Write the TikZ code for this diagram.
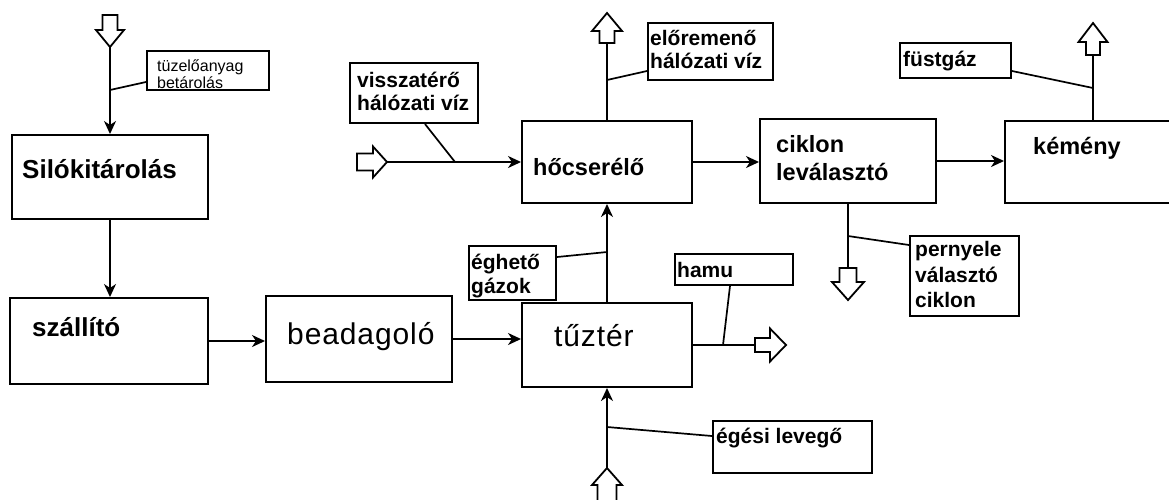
\documentclass[tikz,border=0pt]{standalone}
\usepackage{fontspec}
\setmainfont{Liberation Sans}
\usetikzlibrary{arrows.meta,calc}

% hollow block arrow: name, tail x, tail y, direction angle, length, head length, head half width, shaft half width
\newcommand\blockarrow[8]{%
  \begin{scope}[shift={(#2,#3)},rotate=#4]
    \draw[blk] (0,-#8) -- ({#5-#6},-#8) -- ({#5-#6},-#7) -- (#5,0)
               -- ({#5-#6},#7) -- ({#5-#6},#8) -- (0,#8) -- cycle;
    \coordinate (#1-tail) at (0,0);
    \coordinate (#1-tip) at (#5,0);
  \end{scope}}

\tikzset{
  box/.style={draw,line width=2pt,rectangle,inner sep=0pt},
  blk/.style={draw,line width=1.8pt,fill=white,line join=miter},
  link/.style={line width=2pt},
  arr/.style={link,-{Stealth[length=13pt,width=12pt,inset=4pt]}},
  lead/.style={line width=1.7pt},
  txt/.style={anchor=base west,inner sep=0pt},
  bigb/.style={txt,font=\fontsize{26}{30}\selectfont\bfseries},
  midb/.style={txt,font=\fontsize{23.5}{28}\selectfont\bfseries},
  smlb/.style={txt,font=\fontsize{21}{25}\selectfont\bfseries},
  plain/.style={txt,font=\fontsize{30}{34}\selectfont\addfontfeature{LetterSpace=3}},
  tiny/.style={txt,font=\fontsize{16}{18}\selectfont},
}

\begin{document}
\begin{tikzpicture}[x=1pt,y=-1pt]
\useasboundingbox[fill=white] (0,0) rectangle (1169,499);
\clip (0,0) rectangle (1169,499);

% process blocks
\node[box,minimum width=196pt,minimum height=84pt] (silo)   at (110,177) {};
\node[box,minimum width=198pt,minimum height=86pt] (szall)  at (109,341) {};
\node[box,minimum width=186pt,minimum height=86pt] (bead)   at (359,339) {};
\node[box,minimum width=170pt,minimum height=84pt] (tuzter) at (607,345) {};
\node[box,minimum width=170pt,minimum height=82pt] (hocs)   at (607,162) {};
\node[box,minimum width=176pt,minimum height=84pt] (ciklon) at (848,161) {};
\node[box,minimum width=170pt,minimum height=82pt] (kemeny) at (1090,162) {};

% label boxes
\node[box,minimum width=122pt,minimum height=39pt] (tuzb)   at (208,70.5) {};
\node[box,minimum width=87pt,minimum height=54pt]  (egh)    at (512.5,273) {};
\node[box,minimum width=125pt,minimum height=57pt] (elore)  at (710.5,51.5) {};
\node[box,minimum width=128pt,minimum height=60pt] (vissz)  at (414,93) {};
\node[box,minimum width=111pt,minimum height=35pt] (fust)   at (955.5,60.5) {};
\node[box,minimum width=109pt,minimum height=80pt] (pernye) at (964.5,276) {};
\node[box,minimum width=118pt,minimum height=31pt] (hamu)   at (734,269.5) {};
\node[box,minimum width=159pt,minimum height=52pt] (egesi)  at (792.5,447) {};

% texts of the blocks
\node[bigb] at (22,178) {Silókitárolás};
\node[bigb] at (32,336) {szállító};
\node[plain] at (287,344) {beadagoló};
\node[plain] at (554,346) {tűztér};
\node[midb] at (533,175) {hőcserélő};
\node[midb] at (776,152) {ciklon};
\node[midb] at (776,180) {leválasztó};
\node[midb] at (1033,154) {kémény};

% texts of the labels
\node[tiny] at (157,71) {tüzelőanyag};
\node[tiny] at (157,88) {betárolás};
\node[smlb] at (471,269) {éghető};
\node[smlb] at (471,293) {gázok};
\node[smlb] at (650,45) {előremenő};
\node[smlb] at (650,68) {hálózati víz};
\node[smlb] at (357,87) {visszatérő};
\node[smlb] at (357,110) {hálózati víz};
\node[smlb] at (903,66) {füstgáz};
\node[smlb] at (915,256) {pernyele};
\node[smlb] at (915,282) {választó};
\node[smlb] at (915,307) {ciklon};
\node[smlb] at (677,277) {hamu};
\node[smlb] at (716,443) {égési levegő};

% inputs and outputs
\blockarrow{a1}{110}{15}{-90}{32}{17}{14}{7.5}
\blockarrow{a2}{357}{162}{0}{30}{14}{15.5}{8.5}
\blockarrow{a3}{607}{43}{90}{30}{18}{15}{7.5}
\blockarrow{a4}{1093}{55}{90}{32}{19}{14.5}{7}
\blockarrow{a5}{848}{268}{-90}{32}{18}{16}{8.5}
\blockarrow{a6}{755}{345}{0}{31}{16}{16.5}{7}
\blockarrow{a7}{607}{505}{90}{37}{17}{15}{9.5}

% material and gas flow
\draw[arr] (a1-tip) -- (silo.north);
\draw[arr] (silo.south) -- (silo.south |- szall.north);
\draw[arr] (szall.east) -- (szall.east -| bead.west);
\draw[arr] (bead.east) -- (bead.east -| tuzter.west);
\draw[arr] (tuzter.north) -- (tuzter.north |- hocs.south);
\draw[link] (hocs.north) -- (a3-tail);
\draw[arr] (a2-tip) -- (a2-tip -| hocs.west);
\draw[arr] (hocs.east) -- (hocs.east -| ciklon.west);
\draw[arr] (ciklon.east) -- (ciklon.east -| kemeny.west);
\draw[link] (a4-tail |- kemeny.north) -- (a4-tail);
\draw[link] (ciklon.south) -- (a5-tail);
\draw[link] (tuzter.east) -- (a6-tail);
\draw[arr] (a7-tip) -- (tuzter.south);

% leader lines from the labels
\coordinate (j1) at (110,90);
\coordinate (j2) at (607,252);
\coordinate (j3) at (607,80);
\coordinate (j4) at (455,162);
\coordinate (j5) at (1093,88);
\coordinate (j6) at (848,236);
\coordinate (j7) at (723,345);
\coordinate (j8) at (607,427);
\draw[lead] ($(tuzb.south west)+(0,-9)$) -- (j1);
\draw[lead] ($(egh.north east)+(0,12)$) -- (j2);
\draw[lead] ($(elore.south west)+(0,-10)$) -- (j3);
\draw[lead] ($(vissz.south)+(11,0)$) -- (j4);
\draw[lead] ($(fust.south east)+(0,-8)$) -- (j5);
\draw[lead] (j6) -- ($(pernye.north west)+(0,10)$);
\draw[lead] ($(hamu.south)+(-4,0)$) -- (j7);
\draw[lead] (j8) -- ($(egesi.north west)+(0,16)$);
\end{tikzpicture}
\end{document}
